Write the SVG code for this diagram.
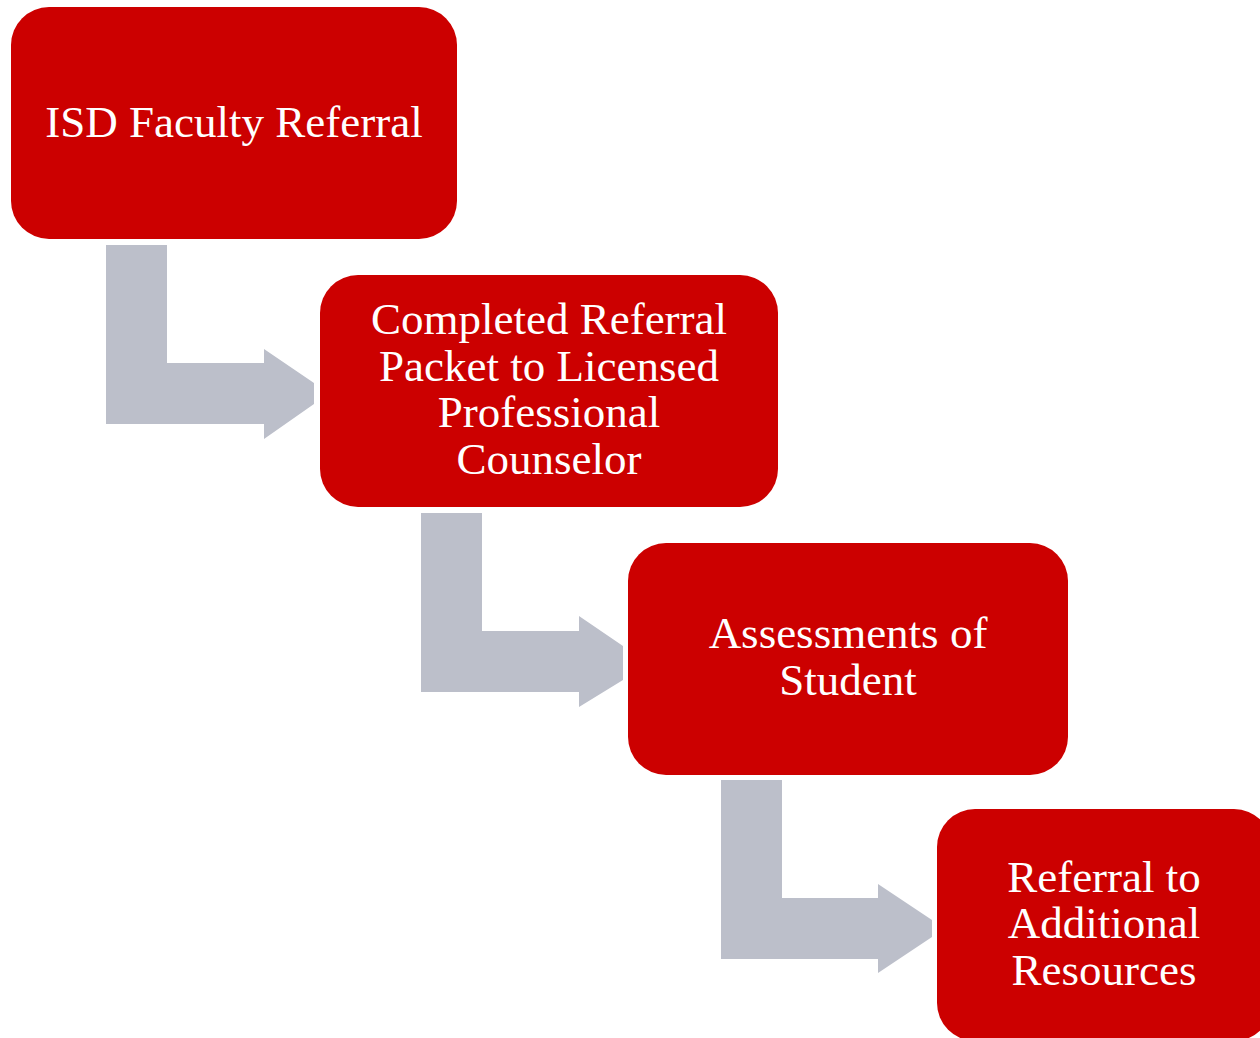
<svg xmlns="http://www.w3.org/2000/svg" width="1260" height="1038" viewBox="0 0 1260 1038">
<style>
.box{fill:#CC0000;}
.arr{fill:#BCBFCA;}
.t{font-family:"Liberation Serif","Times New Roman",serif;font-size:45px;fill:#FFFFFF;text-anchor:middle;}
</style>
<rect width="1260" height="1038" fill="#FFFFFF"/>
<g id="connectors">
<polygon class="arr" points="106,245 167,245 167,363 264,363 264,349 314,383 314,404 264,439 264,424 106,424"/>
<polygon class="arr" points="421,513 482,513 482,631 579,631 579,616 623,646 623,680 579,707 579,692 421,692"/>
<polygon class="arr" points="721,780 782,780 782,898 878,898 878,884 932,920 932,937 878,973 878,959 721,959"/>
</g>
<g id="node1">
<rect class="box" x="11" y="7" width="446" height="232" rx="38" ry="38"/>
<text class="t" x="234" y="137">ISD Faculty Referral</text>
</g>
<g id="node2">
<rect class="box" x="320" y="275" width="458" height="232" rx="38" ry="38"/>
<text class="t" x="549" y="334">Completed Referral</text>
<text class="t" x="549" y="381">Packet to Licensed</text>
<text class="t" x="549" y="427">Professional</text>
<text class="t" x="549" y="474">Counselor</text>
</g>
<g id="node3">
<rect class="box" x="628" y="543" width="440" height="232" rx="38" ry="38"/>
<text class="t" x="848" y="648">Assessments of</text>
<text class="t" x="848" y="695">Student</text>
</g>
<g id="node4">
<rect class="box" x="937" y="809" width="335" height="232" rx="38" ry="38"/>
<text class="t" x="1104" y="892">Referral to</text>
<text class="t" x="1104" y="938">Additional</text>
<text class="t" x="1104" y="985">Resources</text>
</g>
</svg>
